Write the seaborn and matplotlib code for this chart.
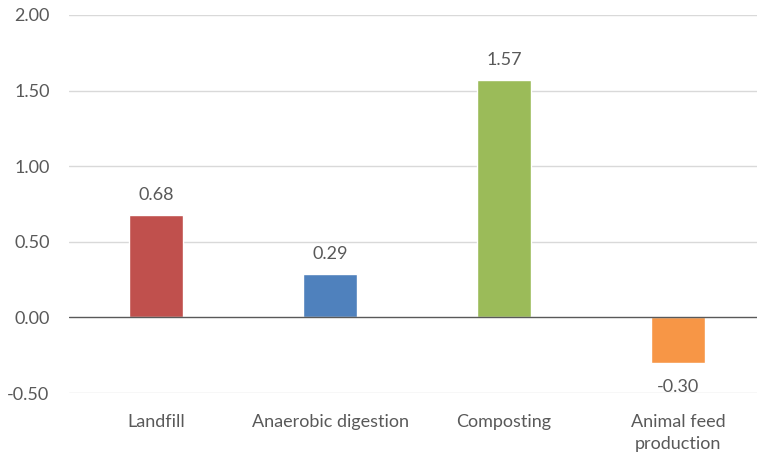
import matplotlib
matplotlib.use("Agg")
import matplotlib.pyplot as plt
import seaborn as sns
import pandas as pd

categories = ["Landfill", "Anaerobic digestion", "Composting", "Animal feed\nproduction"]
values = [0.68, 0.29, 1.57, -0.30]
colors = ["#C0504D", "#4F81BD", "#9BBB59", "#F79646"]
yticks = [-0.5, 0.0, 0.5, 1.0, 1.5, 2.0]

sns.set_theme(style="white")
plt.rcParams["font.family"] = ["Lato", "DejaVu Sans"]

df = pd.DataFrame({"category": categories, "value": values})

W, H = 757, 459
fig = plt.figure(figsize=(W / 100, H / 100), dpi=100)
left, right = 69 / W, 1.0
bottom, top = 1 - 393 / H, 1 - 15 / H
ax = fig.add_axes([left, bottom, right - left, top - bottom])

sns.barplot(data=df, x="category", y="value", hue="category", palette=colors,
            width=0.31, legend=False, ax=ax, saturation=1)

ax.set_ylim(-0.5, 2.0)
ax.set_xlim(-0.5, (W - 69) / 174 - 0.5)
ax.set_yticks(yticks)
ax.set_yticklabels([f"{t:.2f}" for t in yticks], color="#595959", fontsize=13)
ax.tick_params(axis="y", length=0, pad=14)
ax.tick_params(axis="x", length=0, pad=15, labelsize=13, labelcolor="#595959")
for lbl in ax.get_xticklabels():
    lbl.set_linespacing(1.5)
ax.set_xlabel("")
ax.set_ylabel("")

for t in yticks:
    ax.axhline(t, color="#595959" if t == 0 else "#D9D9D9", lw=1.0, zorder=0.5 if t else 3)

for s in ax.spines.values():
    s.set_visible(False)

for i, v in enumerate(values):
    off = 20 if v >= 0 else -24
    ax.annotate(f"{v:.2f}", (i, v), xytext=(0, off * 0.72), textcoords="offset points",
                ha="center", va="center", fontsize=13, color="#595959")

fig.savefig("out.png", dpi=100)
